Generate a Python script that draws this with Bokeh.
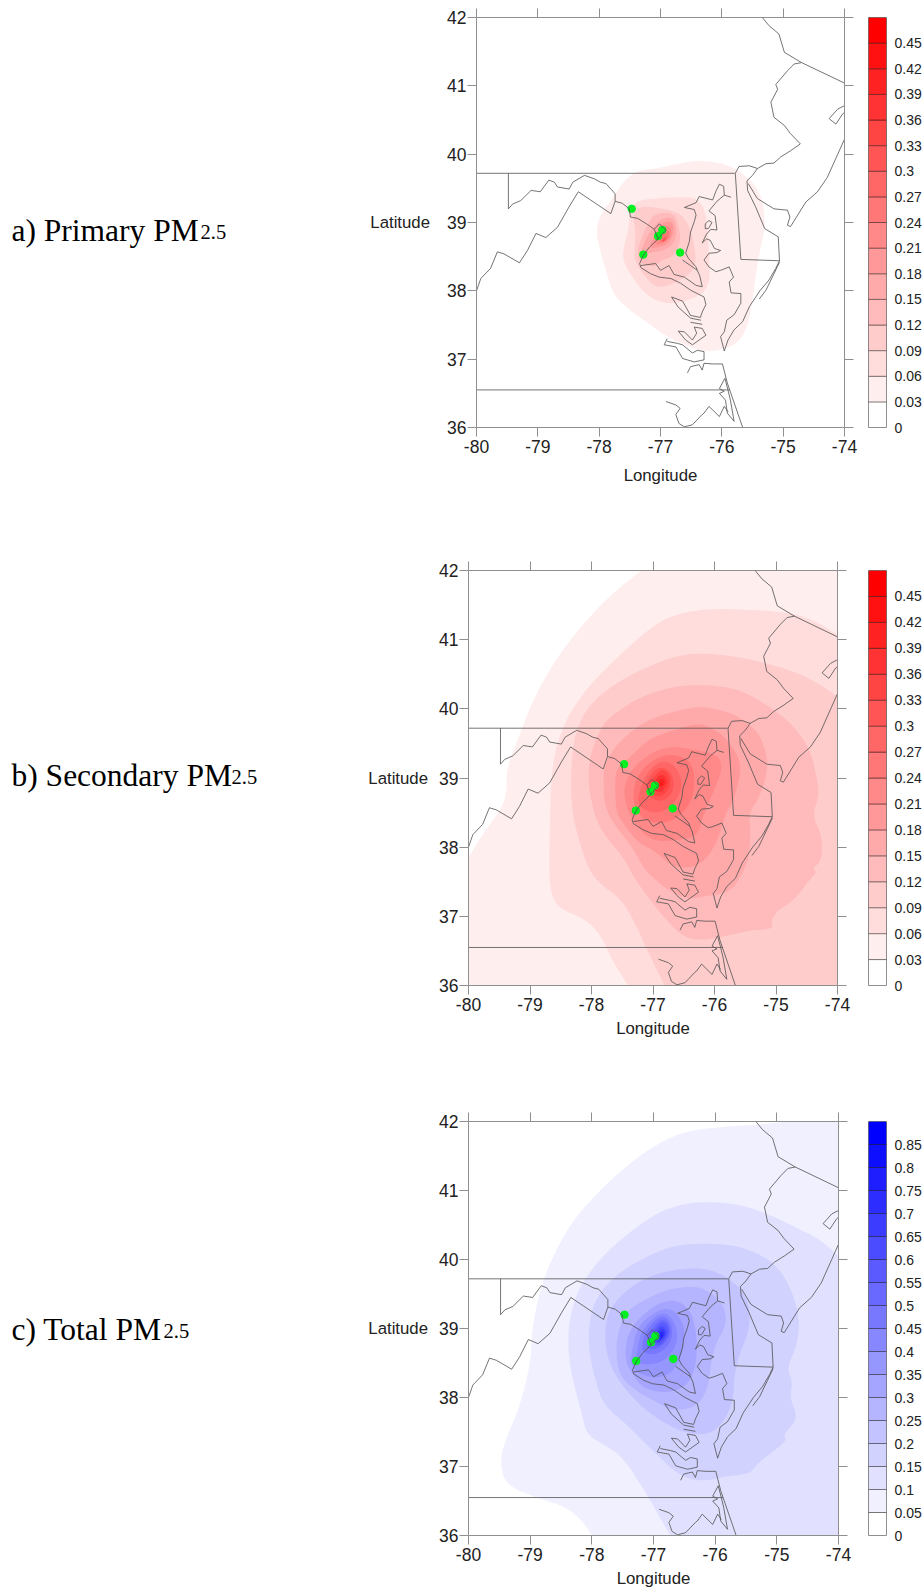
from bokeh.plotting import figure
from bokeh.layouts import column, row
from bokeh.models import LinearAxis, FixedTicker, Label, Range1d
from bokeh.embed import file_html
from bokeh.resources import INLINE

LON_TICKS = [-80, -79, -78, -77, -76, -75, -74]
LAT_TICKS = [36, 37, 38, 39, 40, 41, 42]

# Receptor sites (lon, lat)
site_lon = [-77.47, -76.97, -77.04, -77.28, -76.68]
site_lat = [39.20, 38.89, 38.80, 38.53, 38.56]

# Colour-bar levels
levels_pm = [0, .03, .06, .09, .12, .15, .18, .21, .24, .27, .3, .33, .36, .39, .42, .45, .48]
labels_pm = ["0", "0.03", "0.06", "0.09", "0.12", "0.15", "0.18", "0.21", "0.24", "0.27", "0.3", "0.33", "0.36", "0.39", "0.42", "0.45", ""]
levels_total = [0, .05, .1, .15, .2, .25, .3, .35, .4, .45, .5, .55, .6, .65, .7, .75, .8, .85, .9]
labels_total = ["0", "0.05", "0.1", "0.15", "0.2", "0.25", "0.3", "0.35", "0.4", "0.45", "0.5", "0.55", "0.6", "0.65", "0.7", "0.75", "0.8", "0.85", ""]

# State borders and coastlines (lon, lat)
map_lines = [
    [(-80, 39.72), (-75.79, 39.72)],
    [(-79.48, 39.72), (-79.48, 39.20)],
    [(-79.48, 39.20), (-79.41, 39.27), (-79.28, 39.32), (-79.11, 39.47), (-78.96, 39.45), (-78.82, 39.62), (-78.73, 39.59),
     (-78.68, 39.52), (-78.49, 39.49), (-78.43, 39.59), (-78.24, 39.69), (-78.08, 39.64), (-77.98, 39.59), (-77.89, 39.57),
     (-77.81, 39.49), (-77.74, 39.42), (-77.74, 39.31), (-77.62, 39.28), (-77.51, 39.20), (-77.49, 39.08), (-77.37, 39.06),
     (-77.21, 38.97), (-77.10, 38.90), (-77.04, 38.76), (-77.18, 38.64), (-77.28, 38.52), (-77.34, 38.40), (-77.32, 38.34),
     (-77.16, 38.25), (-77.02, 38.20), (-76.83, 38.18), (-76.67, 38.11), (-76.51, 38.01), (-76.29, 37.91), (-76.26, 37.80),
     (-76.32, 37.69), (-76.35, 37.61), (-76.51, 37.64), (-76.64, 37.85), (-76.82, 37.91), (-76.71, 37.76), (-76.51, 37.60), (-76.34, 37.57)],
    [(-77.10, 38.90), (-77.02, 38.98), (-76.91, 38.89), (-77.04, 38.76)],
    [(-80, 38.0), (-79.93, 38.18), (-79.77, 38.33), (-79.66, 38.57), (-79.55, 38.54), (-79.30, 38.41), (-79.17, 38.59),
     (-79.03, 38.84), (-78.87, 38.78), (-78.68, 38.93), (-78.49, 39.23), (-78.34, 39.45), (-77.81, 39.13), (-77.74, 39.31)],
    [(-77.32, 38.37), (-77.08, 38.40), (-77.0, 38.30), (-76.86, 38.37), (-76.78, 38.24), (-76.61, 38.20), (-76.42, 38.08), (-76.32, 38.06),
     (-76.36, 38.22), (-76.40, 38.30), (-76.51, 38.37), (-76.64, 38.45)],
    [(-76.40, 38.30), (-76.42, 38.35), (-76.54, 38.47), (-76.59, 38.55), (-76.53, 38.72), (-76.51, 38.86), (-76.45, 39.01), (-76.42, 39.11),
     (-76.45, 39.19), (-76.61, 39.22), (-76.42, 39.29), (-76.37, 39.38), (-76.15, 39.33), (-76.10, 39.45), (-76.04, 39.56), (-75.97, 39.53),
     (-75.96, 39.40), (-75.85, 39.37)],
    [(-75.96, 39.40), (-76.08, 39.31), (-76.21, 39.17), (-76.11, 39.10), (-76.08, 38.89), (-76.18, 38.90), (-76.25, 38.83), (-76.32, 38.70),
     (-76.25, 38.76), (-76.19, 38.74), (-76.12, 38.62), (-76.02, 38.59), (-76.08, 38.56), (-76.21, 38.55), (-76.29, 38.45), (-76.21, 38.35),
     (-76.10, 38.28), (-76.02, 38.30), (-75.88, 38.35), (-75.81, 38.20), (-75.88, 38.13), (-75.85, 37.97), (-75.69, 37.96), (-75.69, 37.82),
     (-75.80, 37.65), (-75.92, 37.57), (-75.96, 37.40), (-76.02, 37.33), (-75.96, 37.12), (-75.90, 37.28), (-75.80, 37.43), (-75.66, 37.55),
     (-75.55, 37.77), (-75.38, 38.0), (-75.23, 38.16), (-75.12, 38.33), (-75.06, 38.44)],
    [(-76.27, 38.98), (-76.21, 39.03), (-76.16, 39.0), (-76.22, 38.91), (-76.27, 38.91), (-76.27, 38.98)],
    [(-75.39, 37.88), (-75.28, 38.01), (-75.15, 38.25), (-75.06, 38.42)],
    [(-75.78, 39.72), (-75.69, 38.46), (-75.06, 38.44), (-75.08, 38.79), (-75.30, 38.91), (-75.45, 39.23), (-75.58, 39.47),
     (-75.59, 39.61), (-75.50, 39.69), (-75.42, 39.79), (-75.55, 39.83), (-75.72, 39.82), (-75.78, 39.72)],
    [(-75.42, 39.79), (-75.28, 39.86), (-75.15, 39.87), (-75.04, 39.96), (-74.88, 40.05), (-74.72, 40.15), (-74.88, 40.30),
     (-74.98, 40.42), (-75.15, 40.54), (-75.20, 40.76), (-75.09, 40.95), (-75.12, 41.02), (-74.93, 41.22), (-74.82, 41.32),
     (-74.70, 41.34), (-74.98, 41.49), (-75.07, 41.76), (-75.23, 41.88), (-75.34, 42.0)],
    [(-74.70, 41.34), (-74.0, 41.04)],
    [(-75.57, 39.57), (-75.42, 39.35), (-75.15, 39.20), (-74.93, 39.18), (-74.89, 39.08), (-74.93, 38.96), (-74.88, 38.94), (-74.63, 39.30),
     (-74.44, 39.45), (-74.28, 39.66), (-74.11, 40.0), (-74.0, 40.22)],
    [(-74.0, 40.71), (-74.11, 40.66), (-74.25, 40.52), (-74.14, 40.44), (-74.03, 40.59), (-74.0, 40.61)],
    [(-76.51, 37.54), (-76.32, 37.51)],
    [(-76.71, 37.41), (-76.59, 37.28), (-76.48, 37.21), (-76.26, 37.35), (-76.32, 37.45), (-76.45, 37.47), (-76.41, 37.38),
     (-76.48, 37.28), (-76.61, 37.40), (-76.71, 37.41)],
    [(-76.89, 37.30), (-76.94, 37.21), (-76.75, 37.18), (-76.64, 37.01), (-76.45, 36.96), (-76.29, 36.99), (-76.29, 37.11),
     (-76.40, 37.13), (-76.48, 37.09), (-76.64, 37.21), (-76.72, 37.23), (-76.89, 37.26)],
    [(-76.56, 36.80), (-76.51, 36.89), (-76.37, 36.92), (-76.32, 36.84), (-76.29, 36.94), (-76.15, 36.93), (-75.99, 36.93),
     (-75.91, 36.65), (-75.66, 36.0)],
    [(-75.95, 36.72), (-76.04, 36.57), (-75.96, 36.53), (-76.04, 36.50), (-75.94, 36.40), (-75.91, 36.21), (-75.80, 36.09),
     (-75.86, 36.40), (-75.90, 36.55), (-75.95, 36.72)],
    [(-80, 36.55), (-75.87, 36.55)],
    [(-76.91, 36.38), (-76.75, 36.33), (-76.68, 36.28), (-76.75, 36.19), (-76.70, 36.06), (-76.61, 36.01), (-76.48, 36.04),
     (-76.32, 36.19), (-76.29, 36.21), (-76.21, 36.31), (-76.04, 36.16), (-75.96, 36.31), (-75.90, 36.23)],
    [(-78.24, 42), (-77.55, 42)],
    [(-75.8, 42), (-75.34, 42)],
]

# Filled contour outlines, lowest band first (band n = n-th colour above white)
primary_bands = [
    [(-76.34, 39.91), (-75.96, 39.86), (-75.69, 39.74), (-75.42, 39.52), (-75.31, 39.23), (-75.30, 38.89), (-75.39, 38.55),
     (-75.45, 38.20), (-75.50, 37.86), (-75.58, 37.47), (-75.74, 37.23), (-76.02, 37.13), (-76.29, 37.11), (-76.61, 37.21),
     (-76.94, 37.35), (-77.27, 37.57), (-77.54, 37.74), (-77.78, 37.96), (-77.89, 38.30), (-77.97, 38.54), (-78.05, 38.84),
     (-78.00, 39.08), (-77.81, 39.32), (-77.59, 39.62), (-77.37, 39.76), (-77.05, 39.79), (-76.67, 39.87)],
    [(-77.37, 39.32), (-77.10, 39.35), (-76.78, 39.37), (-76.45, 39.37), (-76.29, 39.23), (-76.23, 38.93), (-76.21, 38.55),
     (-76.19, 38.20), (-76.26, 38.01), (-76.45, 37.89), (-76.78, 37.81), (-77.05, 37.84), (-77.29, 37.99), (-77.46, 38.20),
     (-77.62, 38.45), (-77.59, 38.69), (-77.51, 38.93), (-77.51, 39.20)],
    [(-77.32, 39.25), (-76.78, 39.18), (-76.56, 39.03), (-76.45, 38.69), (-76.42, 38.40), (-76.53, 38.23), (-76.89, 38.06),
     (-77.10, 38.06), (-77.27, 38.23), (-77.40, 38.40), (-77.43, 38.55), (-77.40, 38.84), (-77.46, 39.13)],
    [(-77.10, 39.13), (-76.78, 39.15), (-76.70, 38.93), (-76.67, 38.74), (-76.78, 38.50), (-76.99, 38.45), (-77.10, 38.35),
     (-77.21, 38.37), (-77.32, 38.40), (-77.38, 38.55), (-77.32, 38.76), (-77.21, 38.98)],
    [(-76.99, 39.06), (-76.80, 39.08), (-76.73, 38.89), (-76.78, 38.69), (-76.94, 38.59), (-77.10, 38.57), (-77.21, 38.55),
     (-77.28, 38.47), (-77.32, 38.55), (-77.26, 38.72), (-77.16, 38.89)],
    [(-76.95, 39.01), (-76.80, 39.01), (-76.78, 38.84), (-76.89, 38.67), (-77.05, 38.64), (-77.18, 38.62), (-77.13, 38.76), (-77.05, 38.89)],
    [(-76.93, 38.96), (-76.83, 38.93), (-76.82, 38.81), (-76.91, 38.72), (-77.05, 38.67), (-77.10, 38.72), (-77.02, 38.86)],
    [(-76.91, 38.89), (-76.85, 38.86), (-76.87, 38.76), (-76.96, 38.71), (-77.03, 38.74), (-76.98, 38.83)],
    [(-76.93, 38.81), (-76.89, 38.79), (-76.93, 38.72), (-77.0, 38.71)],
    [(-76.94, 38.78), (-76.91, 38.75), (-76.97, 38.71)],
]

secondary_bands = [
    [(-77.19, 42), (-74, 42), (-74, 36), (-80, 36), (-80, 37.85), (-79.78, 38.17), (-79.51, 38.50), (-79.38, 38.74), (-79.38, 39.13),
     (-79.22, 39.51), (-78.97, 40.09), (-78.65, 40.62), (-78.27, 41.09), (-77.73, 41.62)],
    [(-74, 41.07), (-74.33, 41.26), (-74.71, 41.38), (-75.30, 41.43), (-76.0, 41.45), (-76.49, 41.40), (-76.92, 41.26), (-77.52, 40.80),
     (-78.06, 40.32), (-78.43, 39.84), (-78.65, 39.22), (-78.68, 38.17), (-78.69, 37.40), (-78.54, 37.11), (-78.11, 36.97),
     (-77.84, 36.72), (-77.68, 36.39), (-77.41, 36), (-74, 36)],
    [(-74, 40.18), (-74.49, 40.47), (-75.14, 40.66), (-75.68, 40.76), (-76.22, 40.81), (-76.65, 40.76), (-77.08, 40.61), (-77.62, 40.37),
     (-78.06, 40.04), (-78.27, 39.65), (-78.33, 39.17), (-78.33, 38.65), (-78.27, 38.31), (-78.08, 37.73), (-77.89, 37.49),
     (-77.52, 37.25), (-77.30, 36.92), (-77.08, 36.48), (-76.81, 36), (-74, 36)],
    [(-76.11, 40.35), (-76.65, 40.33), (-77.19, 40.18), (-77.62, 39.94), (-77.84, 39.75), (-78.03, 39.32), (-78.06, 38.93), (-77.95, 38.45),
     (-77.79, 38.17), (-77.46, 37.83), (-77.30, 37.54), (-76.98, 37.16), (-76.71, 36.87), (-76.49, 36.70), (-76.22, 36.65), (-75.79, 36.72),
     (-75.41, 36.80), (-75.03, 36.82), (-75.09, 36.92), (-74.98, 37.08), (-74.76, 37.20), (-74.60, 37.35), (-74.49, 37.49), (-74.33, 37.64),
     (-74.41, 37.69), (-74.25, 37.81), (-74.25, 38.17), (-74.41, 38.45), (-74.30, 38.74), (-74.33, 38.98), (-74.44, 39.41), (-74.71, 39.75),
     (-75.03, 39.99), (-75.57, 40.28)],
    [(-76.17, 40.04), (-76.54, 39.99), (-77.08, 39.85), (-77.52, 39.56), (-77.79, 39.22), (-77.81, 38.93), (-77.79, 38.60), (-77.62, 38.31),
     (-77.35, 38.02), (-77.14, 37.68), (-76.98, 37.54), (-76.71, 37.35), (-76.44, 37.25), (-76.22, 37.28), (-75.73, 37.35), (-75.57, 37.59),
     (-75.44, 37.83), (-75.41, 38.21), (-75.44, 38.50), (-75.25, 38.74), (-75.11, 39.22), (-75.25, 39.61), (-75.46, 39.80), (-75.73, 39.94)],
    [(-76.22, 39.80), (-76.65, 39.70), (-77.08, 39.56), (-77.35, 39.32), (-77.60, 39.13), (-77.62, 38.89), (-77.60, 38.50), (-77.46, 38.31),
     (-77.25, 38.07), (-76.98, 37.95), (-76.65, 37.69), (-76.22, 37.73), (-75.95, 38.07), (-75.84, 38.45), (-75.68, 38.69), (-75.55, 39.17),
     (-75.71, 39.46), (-75.90, 39.65)],
    [(-76.71, 39.46), (-77.03, 39.37), (-77.35, 39.13), (-77.49, 38.84), (-77.41, 38.50), (-77.19, 38.21), (-76.92, 38.07), (-76.49, 38.12),
     (-76.27, 38.17), (-76.17, 38.50), (-75.95, 38.93), (-75.87, 39.17), (-75.95, 39.34), (-76.33, 39.41)],
    [(-76.84, 39.34), (-77.14, 39.17), (-77.30, 38.93), (-77.33, 38.65), (-77.19, 38.41), (-76.87, 38.33), (-76.54, 38.45), (-76.33, 38.74),
     (-76.33, 39.17), (-76.54, 39.32)],
    [(-76.87, 39.25), (-77.08, 39.10), (-77.19, 38.89), (-77.27, 38.60), (-76.98, 38.48), (-76.71, 38.57), (-76.52, 38.84), (-76.57, 39.08), (-76.71, 39.22)],
    [(-76.90, 39.17), (-77.06, 39.03), (-77.14, 38.79), (-76.92, 38.65), (-76.73, 38.72), (-76.65, 38.89), (-76.71, 39.10)],
    [(-76.87, 39.13), (-77.02, 38.98), (-77.06, 38.79), (-76.90, 38.72), (-76.76, 38.81), (-76.71, 38.96), (-76.77, 39.09)],
    [(-76.86, 39.07), (-76.98, 38.96), (-76.98, 38.81), (-76.87, 38.79), (-76.79, 38.88), (-76.76, 38.98)],
    [(-76.87, 39.0), (-76.93, 38.93), (-76.91, 38.86), (-76.82, 38.89), (-76.80, 38.96)],
    [(-76.87, 38.95), (-76.89, 38.90), (-76.84, 38.90)],
]

total_bands = [
    [(-74.84, 42), (-74, 42), (-74, 36), (-78.0, 36), (-78.16, 36.22), (-78.41, 36.41), (-78.84, 36.53), (-79.38, 36.72), (-79.49, 37.03),
     (-79.43, 37.32), (-79.16, 37.89), (-79.0, 38.47), (-78.97, 38.95), (-78.89, 39.38), (-78.73, 39.86), (-78.35, 40.53), (-77.76, 41.11),
     (-77.11, 41.59), (-76.52, 41.86), (-75.82, 41.93), (-75.33, 41.95)],
    [(-74, 40.05), (-74.30, 40.29), (-74.57, 40.41), (-75.11, 40.65), (-75.60, 40.80), (-76.14, 40.84), (-76.57, 40.80), (-77.0, 40.65),
     (-77.54, 40.29), (-77.92, 39.96), (-78.25, 39.53), (-78.38, 39.05), (-78.38, 38.66), (-78.33, 38.33), (-78.16, 37.75), (-78.08, 37.46),
     (-77.81, 37.32), (-77.49, 37.13), (-77.11, 36.60), (-76.73, 36), (-74, 36)],
    [(-76.19, 40.24), (-76.68, 40.20), (-77.11, 40.05), (-77.65, 39.76), (-77.98, 39.38), (-78.06, 38.95), (-78.03, 38.57), (-77.92, 38.18),
     (-77.81, 37.89), (-77.44, 37.61), (-77.11, 37.32), (-76.73, 36.98), (-76.46, 36.82), (-76.14, 36.79), (-75.82, 36.86), (-75.44, 36.89),
     (-75.33, 37.03), (-75.06, 37.22), (-74.84, 37.37), (-74.90, 37.46), (-74.65, 37.70), (-74.79, 37.99), (-74.74, 38.23), (-74.84, 38.42),
     (-74.65, 38.81), (-74.64, 39.24), (-74.84, 39.72), (-75.11, 40.0), (-75.60, 40.20)],
    [(-76.14, 39.88), (-76.68, 39.86), (-77.17, 39.72), (-77.54, 39.48), (-77.76, 39.19), (-77.79, 38.85), (-77.73, 38.52), (-77.52, 38.18),
     (-77.22, 37.89), (-76.95, 37.70), (-76.57, 37.51), (-76.25, 37.46), (-75.98, 37.51), (-75.71, 37.89), (-75.68, 38.47), (-75.41, 39.05),
     (-75.49, 39.48), (-75.76, 39.72)],
    [(-76.30, 39.62), (-76.79, 39.57), (-77.22, 39.38), (-77.44, 39.24), (-77.60, 38.90), (-77.60, 38.52), (-77.52, 38.28), (-77.27, 38.09),
     (-76.97, 37.94), (-76.68, 37.80), (-76.30, 37.87), (-76.14, 38.09), (-76.09, 38.33), (-76.03, 38.71), (-75.82, 39.05), (-75.84, 39.29), (-76.03, 39.50)],
    [(-76.68, 39.43), (-77.0, 39.33), (-77.30, 39.09), (-77.44, 38.85), (-77.46, 38.52), (-77.33, 38.33), (-77.17, 38.13), (-76.79, 38.06),
     (-76.46, 38.16), (-76.30, 38.47), (-76.30, 38.95), (-76.41, 39.29)],
    [(-76.79, 39.31), (-77.06, 39.19), (-77.27, 39.0), (-77.35, 38.66), (-77.38, 38.49), (-77.22, 38.33), (-76.90, 38.28), (-76.68, 38.37),
     (-76.52, 38.66), (-76.49, 39.0), (-76.60, 39.21)],
    [(-76.87, 39.24), (-77.08, 39.09), (-77.22, 38.90), (-77.27, 38.66), (-77.30, 38.52), (-77.11, 38.47), (-76.84, 38.52), (-76.65, 38.71),
     (-76.60, 38.95), (-76.71, 39.17)],
    [(-76.87, 39.19), (-77.06, 39.05), (-77.17, 38.85), (-77.19, 38.66), (-77.0, 38.61), (-76.79, 38.71), (-76.68, 38.90), (-76.73, 39.12)],
    [(-76.87, 39.14), (-77.03, 39.0), (-77.11, 38.83), (-77.11, 38.71), (-76.95, 38.69), (-76.79, 38.81), (-76.72, 38.93), (-76.76, 39.09)],
    [(-76.87, 39.10), (-77.0, 38.97), (-77.06, 38.81), (-76.92, 38.73), (-76.79, 38.85), (-76.74, 38.97), (-76.79, 39.07)],
    [(-76.87, 39.06), (-76.96, 38.95), (-77.0, 38.81), (-76.90, 38.78), (-76.80, 38.88), (-76.78, 38.97)],
    [(-76.87, 39.01), (-76.94, 38.93), (-76.95, 38.81), (-76.87, 38.83), (-76.81, 38.91), (-76.81, 38.97)],
    [(-76.86, 38.97), (-76.91, 38.91), (-76.92, 38.83), (-76.85, 38.87), (-76.83, 38.94)],
    [(-76.86, 38.94), (-76.89, 38.90), (-76.87, 38.86), (-76.85, 38.89)],
]

SANS = "Liberation Sans"
SERIF = "Liberation Serif"
AXIS = "#8f8f8f"
LABEL_W = 365
MAP_W = 495


def band_colors(n, hue):
    out = []
    for i in range(n):
        v = round(255 * (1 - i / (n - 1)))
        out.append("#ff%02x%02x" % (v, v) if hue == "red" else "#%02x%02xff" % (v, v))
    return out


def rounded(outline, passes=2):
    """Round the corners of a traced outline, keeping the points that lie on the frame."""
    def fixed(c):
        return c[0] in (-80, -74) or c[1] in (36, 42)
    pts = outline
    for _ in range(passes):
        out = []
        for i, a in enumerate(pts):
            b = pts[(i + 1) % len(pts)]
            out.append(a if fixed(a) else (0.75 * a[0] + 0.25 * b[0], 0.75 * a[1] + 0.25 * b[1]))
            out.append(b if fixed(b) else (0.25 * a[0] + 0.75 * b[0], 0.25 * a[1] + 0.75 * b[1]))
        pts = out
    return pts


def caption(title, title_w, height, baseline):
    c = figure(width=LABEL_W, height=height, x_range=Range1d(0, LABEL_W), y_range=Range1d(height, 0),
               output_backend="svg", toolbar_location=None,
               min_border_left=0, min_border_right=0, min_border_top=0, min_border_bottom=0)
    c.axis.visible = False
    c.grid.visible = False
    c.outline_line_color = None
    c.add_layout(Label(x=11, y=baseline, text=title, text_font=SERIF, text_font_size="31.5px",
                       text_color="black", text_baseline="alphabetic"))
    c.add_layout(Label(x=11 + title_w, y=baseline + 2.7, text="2.5", text_font=SERIF, text_font_size="20.5px",
                       text_color="black", text_baseline="alphabetic"))
    return c


def style_axis(ax, ticks, labels=True):
    ax.axis_line_color = AXIS
    ax.major_tick_line_color = AXIS
    ax.major_tick_out = 9
    ax.major_tick_in = 0
    ax.minor_tick_line_color = None
    ax.ticker = FixedTicker(ticks=ticks)
    ax.major_label_overrides = {t: (str(t) if labels else "") for t in ticks}
    ax.major_label_text_font = SANS
    ax.major_label_text_font_size = "17.5px"
    ax.major_label_text_color = "#222222"


def panel(bands, colors, frame_left, top, frame_h, bottom, lon_standoff, lat_standoff, frame_w):
    left = frame_left - LABEL_W
    right = MAP_W - left - frame_w
    p = figure(width=MAP_W, height=top + frame_h + bottom,
               x_range=Range1d(-80, -74), y_range=Range1d(36, 42),
               output_backend="svg", toolbar_location=None,
               min_border_left=left, min_border_right=right, min_border_top=top, min_border_bottom=bottom,
               x_axis_label="Longitude", y_axis_label="Latitude")
    p.grid.visible = False
    p.outline_line_color = None
    p.background_fill_color = "white"
    style_axis(p.xaxis[0], LON_TICKS)
    style_axis(p.yaxis[0], LAT_TICKS)
    for ax in [p.xaxis[0], p.yaxis[0]]:
        ax.axis_label_text_font = SANS
        ax.axis_label_text_font_size = "16.8px"
        ax.axis_label_text_font_style = "normal"
        ax.axis_label_text_color = "#222222"
    p.xaxis.major_label_standoff = 3
    p.yaxis.major_label_standoff = 1
    p.xaxis.axis_label_standoff = lon_standoff
    p.yaxis.axis_label_standoff = lat_standoff
    p.yaxis.axis_label_orientation = "horizontal"
    top_ax = LinearAxis()
    right_ax = LinearAxis()
    style_axis(top_ax, LON_TICKS, labels=False)
    style_axis(right_ax, LAT_TICKS, labels=False)
    p.add_layout(top_ax, "above")
    p.add_layout(right_ax, "right")
    smooth = [rounded(b) for b in bands]
    p.patches([[c[0] for c in b] for b in smooth], [[c[1] for c in b] for b in smooth],
              fill_color=colors[1:len(bands) + 1], line_color=None)
    p.scatter(site_lon, site_lat, size=7.5, color="#00f020", line_color="#00f020")
    p.multi_line([[c[0] for c in l] for l in map_lines], [[c[1] for c in l] for l in map_lines],
                 line_color="#505050", line_width=0.8)
    return p


def colorbar(levels, labels, colors, top, frame_h, bottom):
    c = figure(width=64, height=top + frame_h + bottom,
               x_range=Range1d(0, 1), y_range=Range1d(levels[0], levels[-1]),
               output_backend="svg", toolbar_location=None, y_axis_location="right",
               min_border_left=8, min_border_right=32, min_border_top=top, min_border_bottom=bottom)
    c.grid.visible = False
    c.xaxis.visible = False
    c.outline_line_color = "#9a9a9a"
    c.quad(left=0, right=1, bottom=levels[:-1], top=levels[1:], fill_color=colors,
           line_color="#000000", line_alpha=0.4, line_width=1)
    ax = c.yaxis[0]
    ax.ticker = FixedTicker(ticks=levels[:-1])
    ax.major_label_overrides = {lv: lb for lv, lb in zip(levels, labels)}
    ax.axis_line_color = None
    ax.major_tick_line_color = None
    ax.minor_tick_line_color = None
    ax.major_label_standoff = 2
    ax.major_label_text_font = SANS
    ax.major_label_text_font_size = "14px"
    ax.major_label_text_color = "#222222"
    return c


red = band_colors(len(levels_pm) - 1, "red")
blue = band_colors(len(levels_total) - 1, "blue")

row_a = row(
    caption("a) Primary PM", 189, 490, 254),
    panel(primary_bands, red, 476, 17, 411, 62, 10, 14, 368),
    colorbar(levels_pm, labels_pm, red, 13, 414, 63),
)
row_b = row(
    caption("b) Secondary PM", 220, 550, 271.5),
    panel(secondary_bands, red, 467, 80, 417, 53, 5, 8, 370),
    colorbar(levels_pm, labels_pm, red, 76, 431, 43),
)
row_c = row(
    caption("c) Total PM", 152, 550, 276),
    panel(total_bands, blue, 468, 81, 417, 52, 5, 8, 370),
    colorbar(levels_total, labels_total, blue, 74, 431, 45),
)
page = column(row_a, row_b, row_c, spacing=0)

open("out.html", "w").write(file_html(page, INLINE))
